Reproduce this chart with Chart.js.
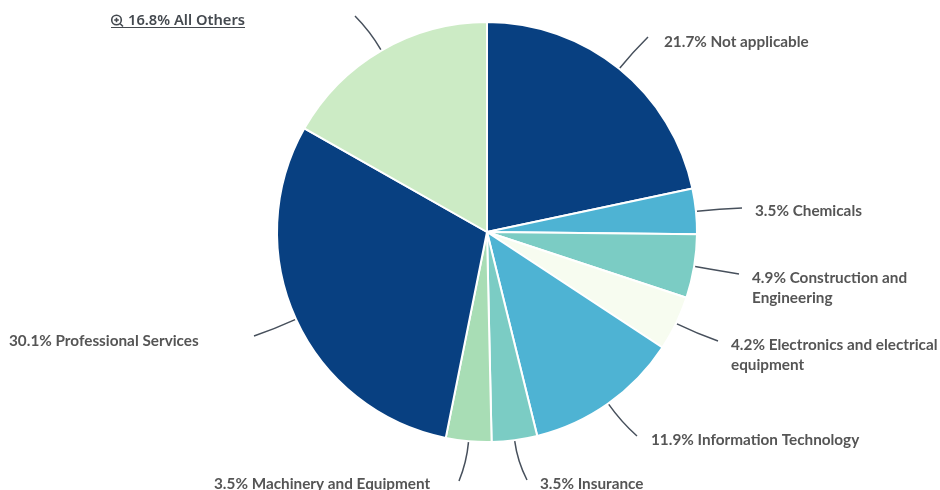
<!DOCTYPE html>
<html>
<head>
<meta charset="utf-8">
<title>Industry breakdown</title>
<script src="https://cdn.jsdelivr.net/npm/chart.js@4"></script>
<style>
    html, body { margin: 0; padding: 0; background: #fff; }
    canvas { display: block; }
</style>
</head>
<body>
<canvas id="pieIndustrias" width="940" height="490"></canvas>
<script>
const categorias = ['Not applicable', 'Chemicals', 'Construction and Engineering', 'Electronics and electrical equipment', 'Information Technology', 'Insurance', 'Machinery and Equipment', 'Professional Services', 'All Others']
const valores = [21.7, 3.5, 4.9, 4.2, 11.9, 3.5, 3.5, 30.1, 16.8]
const colores = ['#084081', '#4eb3d3', '#7bccc4', '#f7fcf0', '#4eb3d3', '#7bccc4', '#a8ddb5', '#084081', '#ccebc5']

// where each callout ends and its label starts, in canvas pixels
const finLinea = [[648, 37], [742, 208], [739, 274], [718, 341], [637, 436], [527, 480], [459, 481], [254, 336], [355, 16]]
const posTexto = [[664, 42], [755, 211], [752, 278], [731, 345], [651, 440], [540, 484], [214, 484], [9, 341], [128, 21]]

const FUENTE = 'bold 15.3px Lato'
const FUENTE_ENLACE = '600 14.7px "Noto Sans"'
const COLOR_TEXTO = '#555555'
const COLOR_LINEA = '#47505c'
const ALTO_LINEA = 20.5

function partirTexto(ctx, texto, ancho) {
    let lineas = []
    let actual = ''
    for (const palabra of texto.split(' ')) {
        let prueba = actual ? actual + ' ' + palabra : palabra
        if (actual && ctx.measureText(prueba).width > ancho) {
            lineas.push(actual)
            actual = palabra
        } else {
            actual = prueba
        }
    }
    lineas.push(actual)
    return lineas
}

function iconoZoom(ctx, x, y) {
    ctx.save()
    ctx.strokeStyle = '#44494f'
    ctx.lineWidth = 1.6
    ctx.beginPath()
    ctx.arc(x + 5.5, y - 1, 4.8, 0, Math.PI * 2)
    ctx.moveTo(x + 9, y + 2.5)
    ctx.lineTo(x + 12, y + 5.5)
    ctx.moveTo(x + 3.2, y - 1)
    ctx.lineTo(x + 7.8, y - 1)
    ctx.moveTo(x + 5.5, y - 3.3)
    ctx.lineTo(x + 5.5, y + 1.3)
    ctx.stroke()
    ctx.restore()
}

const etiquetas = {
    id: 'etiquetas',
    afterDraw(chart) {
        const ctx = chart.ctx
        const arcos = chart.getDatasetMeta(0).data
        ctx.save()
        ctx.textBaseline = 'middle'
        arcos.forEach((arco, i) => {
            const ultimo = i === arcos.length - 1
            const p = arco.getProps(['x', 'y', 'startAngle', 'endAngle', 'outerRadius'])
            const medio = (p.startAngle + p.endAngle) / 2
            const ix = p.x + Math.cos(medio) * (p.outerRadius + 1)
            const iy = p.y + Math.sin(medio) * (p.outerRadius + 1)
            const [fx, fy] = finLinea[i]
            const largo = Math.hypot(fx - ix, fy - iy)
            ctx.strokeStyle = COLOR_LINEA
            ctx.lineWidth = 1.5
            ctx.beginPath()
            ctx.moveTo(ix, iy)
            ctx.quadraticCurveTo(ix + Math.cos(medio) * largo * 0.5, iy + Math.sin(medio) * largo * 0.5, fx, fy)
            ctx.stroke()

            const [tx, ty] = posTexto[i]
            const texto = valores[i].toFixed(1) + '% ' + categorias[i]
            ctx.font = ultimo ? FUENTE_ENLACE : FUENTE
            ctx.fillStyle = ultimo ? '#44494f' : COLOR_TEXTO
            const lineas = partirTexto(ctx, texto, chart.width - tx)
            lineas.forEach((linea, n) => ctx.fillText(linea, tx, ty + n * ALTO_LINEA))

            // the last slice is a link that opens the small categories
            if (ultimo) {
                const ancho = ctx.measureText(texto).width
                iconoZoom(ctx, tx - 17, ty)
                ctx.strokeStyle = '#44494f'
                ctx.lineWidth = 1
                ctx.beginPath()
                ctx.moveTo(tx - 17, ty + 6.5)
                ctx.lineTo(tx + ancho, ty + 6.5)
                ctx.stroke()
            }
        })
        ctx.restore()
    }
}

let pieIndustrias = new Chart(document.getElementById('pieIndustrias'), {
    type: 'pie',
    data: {
        labels: categorias,
        datasets: [
            {
                data: valores,
                backgroundColor: colores,
                borderColor: '#ffffff',
                borderWidth: 2
            }
        ]
    },
    options: {
        responsive: false,
        animation: false,
        radius: 210,
        layout: { padding: { left: 34, bottom: 26 } },
        plugins: {
            legend: { display: false },
            tooltip: { enabled: false }
        }
    },
    plugins: [etiquetas]
})
</script>
</body>
</html>
